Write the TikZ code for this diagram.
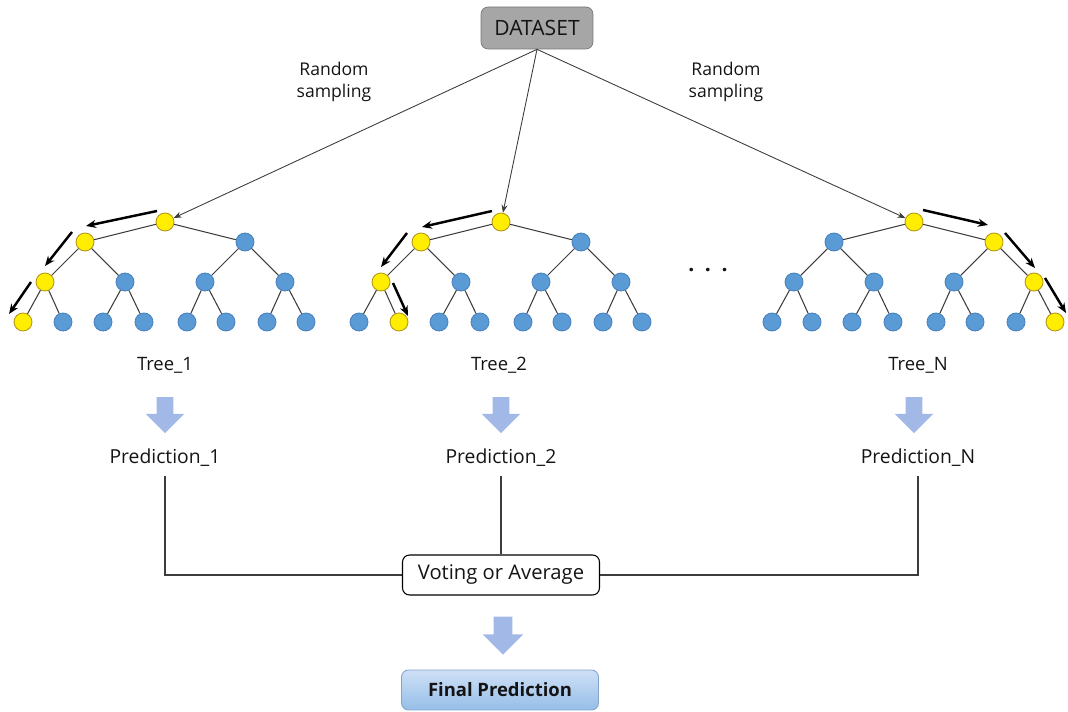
\documentclass[tikz,border=0pt]{standalone}
\usepackage{fontspec}
\setmainfont{Open Sans}
\usepackage{tikz}
\usetikzlibrary{shapes.arrows, arrows.meta, positioning}
\usepackage{xcolor}
\definecolor{nodeyellow}{RGB}{255, 238, 0}
\definecolor{yellowedge}{RGB}{180, 150, 20}
\definecolor{nodeblue}{RGB}{91, 155, 213}
\definecolor{blueedge}{RGB}{72, 130, 190}
\definecolor{edgegray}{RGB}{60, 60, 60}
\definecolor{datagray}{RGB}{166, 166, 166}
\definecolor{databorder}{RGB}{120, 120, 120}
\definecolor{blockblue}{RGB}{162, 184, 230}
\definecolor{finaltop}{RGB}{206, 224, 246}
\definecolor{finalbottom}{RGB}{150, 190, 232}
\definecolor{finalborder}{RGB}{130, 165, 205}
\definecolor{textdark}{RGB}{20, 20, 20}

\begin{document}
\begin{tikzpicture}[
    x=0.02cm, y=-0.02cm,
    yel/.style={circle, draw=yellowedge, fill=nodeyellow, minimum size=0.36cm, inner sep=0pt, line width=0.5pt},
    blu/.style={circle, draw=blueedge, fill=nodeblue, minimum size=0.36cm, inner sep=0pt, line width=0.5pt},
    edge/.style={draw=edgegray, line width=0.6pt},
    walk/.style={-{Stealth[length=2mm, width=1.6mm]}, line width=1.4pt, color=black},
    feed/.style={-{Stealth[length=1.6mm, width=1.2mm]}, line width=0.5pt, color=edgegray},
    link/.style={line width=0.6pt, color=edgegray},
    label/.style={font=\fontsize{10.5}{13}\selectfont, text=textdark, inner sep=2pt},
    down/.style={single arrow, rotate=-90, fill=blockblue, draw=none, inner sep=0pt, minimum height=0.72cm, single arrow head extend=0.22cm},
    box/.style={rectangle, rounded corners=4pt, minimum width=3.94cm, minimum height=0.8cm, align=center, text=textdark},
]
\useasboundingbox (0,0) rectangle (1068,712);

% Dataset
\node[box, fill=datagray, draw=databorder, minimum width=2.24cm, minimum height=0.84cm, font=\fontsize{12}{14}\selectfont] (data) at (537,28) {DATASET};

\node[label, align=center, font=\fontsize{10}{13}\selectfont] (samp1) at (334,82) {Random\\sampling};
\node[label, align=center, font=\fontsize{10}{13}\selectfont] (samp2) at (726,82) {Random\\sampling};

% Trees
\foreach \t/\cx/\a/\b/\c in {1/165/1/1/1, 2/501/1/1/2, 3/914/2/4/8} {
  \node[yel] (t\t-r) at (\cx,222) {};
  \foreach \i/\dx in {1/-80, 2/80} {
    \ifnum\i=\a \def\sty{yel}\else\def\sty{blu}\fi
    \node[\sty] (t\t-a\i) at (\cx+\dx,242) {};
    \draw[edge] (t\t-r) -- (t\t-a\i);
  }
  \foreach \i/\dx in {1/-120, 2/-40, 3/40, 4/120} {
    \ifnum\i=\b \def\sty{yel}\else\def\sty{blu}\fi
    \pgfmathtruncatemacro\p{(\i+1)/2}
    \node[\sty] (t\t-b\i) at (\cx+\dx,282) {};
    \draw[edge] (t\t-a\p) -- (t\t-b\i);
  }
  \foreach \i/\dx in {1/-142, 2/-102, 3/-62, 4/-21, 5/22, 6/61, 7/102, 8/141} {
    \ifnum\i=\c \def\sty{yel}\else\def\sty{blu}\fi
    \pgfmathtruncatemacro\p{(\i+1)/2}
    \node[\sty] (t\t-c\i) at (\cx+\dx,322) {};
    \draw[edge] (t\t-b\p) -- (t\t-c\i);
  }
}

\draw[feed] (data.south) -- (t1-r);
\draw[feed] (data.south) -- (t2-r);
\draw[feed] (data.south) -- (t3-r);

% Decision paths
\draw[walk] ([shift={(-8,-11)}]t1-r.center) -- ([shift={(1,-16)}]t1-a1.center);
\draw[walk] ([shift={(-13,-10)}]t1-a1.center) -- ([shift={(0,-16)}]t1-b1.center);
\draw[walk] ([shift={(-14,0)}]t1-b1.center) -- ([shift={(-14,-8)}]t1-c1.center);

\draw[walk] ([shift={(-9,-11)}]t2-r.center) -- ([shift={(1,-15)}]t2-a1.center);
\draw[walk] ([shift={(-14,-9)}]t2-a1.center) -- ([shift={(0,-15)}]t2-b1.center);
\draw[walk] ([shift={(12,1)}]t2-b1.center) -- ([shift={(9,-6)}]t2-c2.center);

\draw[walk] ([shift={(9,-12)}]t3-r.center) -- ([shift={(-6,-17)}]t3-a2.center);
\draw[walk] ([shift={(11,-9)}]t3-a2.center) -- ([shift={(1,-14)}]t3-b4.center);
\draw[walk] ([shift={(11,-4)}]t3-b4.center) -- ([shift={(11,-9)}]t3-c8.center);

\node[label, font=\bfseries\fontsize{12}{14}\selectfont] (dots) at (708,270) {.\,\,\,.\,\,\,.};

% Tree outputs
\node[label] (tree1) at (165,365) {Tree\_1};
\node[label] (tree2) at (499,365) {Tree\_2};
\node[label] (tree3) at (918,365) {Tree\_N};

\node[down] (arr1) at (165,411) {\rule{0pt}{0.32cm}};
\node[down] (arr2) at (501,411) {\rule{0pt}{0.32cm}};
\node[down] (arr3) at (914,411) {\rule{0pt}{0.32cm}};

\node[label, font=\fontsize{11}{13}\selectfont] (pred1) at (165,458) {Prediction\_1};
\node[label, font=\fontsize{11}{13}\selectfont] (pred2) at (501,458) {Prediction\_2};
\node[label, font=\fontsize{11}{13}\selectfont] (pred3) at (918,458) {Prediction\_N};

% Aggregation
\node[box, draw=black, fill=white, line width=0.6pt, font=\fontsize{11.5}{14}\selectfont] (vote) at (501,575) {Voting or Average};

\draw[link, shorten <=3pt] (pred1) |- (vote);
\draw[link, shorten <=3pt] (pred2) -- (vote);
\draw[link, shorten <=3pt] (pred3) |- (vote);

\node[down, minimum height=0.76cm] (arr4) at (503,631) {\rule{0pt}{0.36cm}};

% Output
\node[box, top color=finaltop, bottom color=finalbottom, draw=finalborder, line width=0.5pt, font=\bfseries\fontsize{10.5}{13}\selectfont] (final) at (500,690) {Final Prediction};

\end{tikzpicture}
\end{document}
